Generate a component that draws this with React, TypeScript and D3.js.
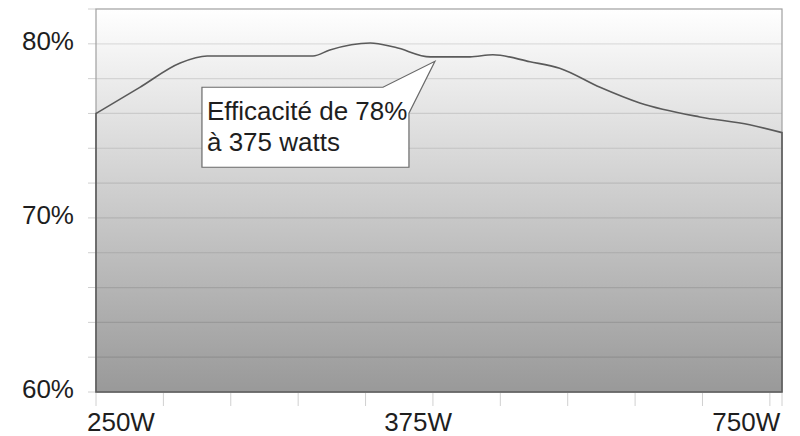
import React, { useEffect, useRef } from 'react';
import * as d3 from 'd3';

// curve points: position along the category axis (tick units) and efficiency in %
const positions = [0, 0.65, 1.25, 1.65, 3.22, 3.47, 4.07, 4.44, 4.96, 5.55, 5.89, 6.44, 6.88, 7.48, 8.07, 8.96, 9.7, 10.18];
const efficiency = [76.0, 77.5, 78.9, 79.3, 79.3, 79.65, 80.05, 79.8, 79.25, 79.25, 79.37, 78.97, 78.6, 77.5, 76.6, 75.8, 75.35, 74.9];

const xTickPositions = [0, 1, 2, 3, 4, 5, 6, 7, 8, 9, 10, 10.18];
const xLabels = ['250W', '375W', '750W'];
const xLabelPositions = [0.37, 4.78, 9.65];

const yGrid = [60, 62, 64, 66, 68, 70, 72, 74, 76, 78, 80, 82];
const yLabels = [60, 70, 80];

const calloutLines = ['Efficacité de 78%', 'à 375 watts'];
const calloutPos = 5.03;
const calloutValue = 79.0;

const W = 800;
const H = 436;
const margin = { top: 9, right: 18, bottom: 44, left: 96 };
const FONT = '"Liberation Sans", Arial, sans-serif';

const App: React.FC = () => {
  const ref = useRef<SVGSVGElement | null>(null);

  useEffect(() => {
    document.body.style.margin = '0';
    if (!ref.current) return;
    const svg = d3.select(ref.current);
    svg.selectAll('*').remove();

    const x = d3.scaleLinear().domain([0, 10.18]).range([margin.left, W - margin.right]);
    const y = d3.scaleLinear().domain([60, 82]).range([H - margin.bottom, margin.top]);

    const defs = svg.append('defs');
    const grad = defs.append('linearGradient')
      .attr('id', 'bg')
      .attr('x1', 0).attr('y1', 0).attr('x2', 0).attr('y2', 1);
    grad.append('stop').attr('offset', '0%').attr('stop-color', '#ffffff');
    grad.append('stop').attr('offset', '100%').attr('stop-color', '#999999');

    const x0 = x(0), x1 = x(10.18), yTop = y(82), yBot = y(60);

    svg.append('rect')
      .attr('x', x0).attr('y', yTop)
      .attr('width', x1 - x0).attr('height', yBot - yTop)
      .attr('fill', 'url(#bg)');

    // gridlines + left ticks
    svg.append('g').selectAll('line')
      .data(yGrid.filter(v => v > 60 && v < 82))
      .join('line')
      .attr('x1', x0).attr('x2', x1)
      .attr('y1', d => y(d)).attr('y2', d => y(d))
      .attr('stroke', 'rgba(0,0,0,0.1)')
      .attr('stroke-width', 1.2);

    svg.append('g').selectAll('line')
      .data(yGrid)
      .join('line')
      .attr('x1', x0 - 8).attr('x2', x0)
      .attr('y1', d => y(d)).attr('y2', d => y(d))
      .attr('stroke', '#d0d0d0');

    svg.append('g').selectAll('line')
      .data(xTickPositions)
      .join('line')
      .attr('x1', d => x(d)).attr('x2', d => x(d))
      .attr('y1', yBot + 1).attr('y2', yBot + 14)
      .attr('stroke', '#d0d0d0');

    // plot border
    svg.append('rect')
      .attr('x', x0).attr('y', yTop)
      .attr('width', x1 - x0).attr('height', yBot - yTop)
      .attr('fill', 'none')
      .attr('stroke', '#a0a0a0')
      .attr('stroke-width', 1.2);

    const pts = positions.map((p, i) => [p, efficiency[i]] as [number, number]);
    const area = d3.area<[number, number]>()
      .x(d => x(d[0]))
      .y0(yBot)
      .y1(d => y(d[1]))
      .curve(d3.curveMonotoneX);

    svg.append('path')
      .datum(pts)
      .attr('d', area)
      .attr('fill', 'none')
      .attr('stroke', '#5a5a5a')
      .attr('stroke-width', 1.6);

    // y labels
    svg.append('g').selectAll('text')
      .data(yLabels)
      .join('text')
      .attr('x', 74)
      .attr('y', d => y(d) + 6)
      .attr('text-anchor', 'end')
      .attr('font-family', FONT)
      .attr('font-size', 26)
      .attr('fill', '#1e1e1e')
      .text(d => `${d}%`);

    // x labels
    svg.append('g').selectAll('text')
      .data(xLabels)
      .join('text')
      .attr('x', (d, i) => x(xLabelPositions[i]))
      .attr('y', 431)
      .attr('text-anchor', 'middle')
      .attr('font-family', FONT)
      .attr('font-size', 26)
      .attr('fill', '#1e1e1e')
      .text(d => d);

    // callout
    const tx = x(calloutPos), ty = y(calloutValue);
    const left = tx - 233, top = ty + 26, right = tx - 26, bottom = ty + 106;
    const shape = `M${left},${top}L${tx - 52},${top}L${tx},${ty}L${right},${ty + 52}L${right},${bottom}L${left},${bottom}Z`;
    svg.append('path')
      .attr('d', shape)
      .attr('fill', '#ffffff')
      .attr('stroke', '#6a6a6a')
      .attr('stroke-width', 1.2);

    svg.append('g').selectAll('text')
      .data(calloutLines)
      .join('text')
      .attr('x', left + 5)
      .attr('y', (d, i) => ty + 59 + i * 31)
      .attr('font-family', FONT)
      .attr('font-size', 26)
      .attr('fill', '#1e1e1e')
      .text(d => d);
  }, []);

  return <svg ref={ref} width={W} height={H} style={{ display: 'block' }} />;
};

export default App;
